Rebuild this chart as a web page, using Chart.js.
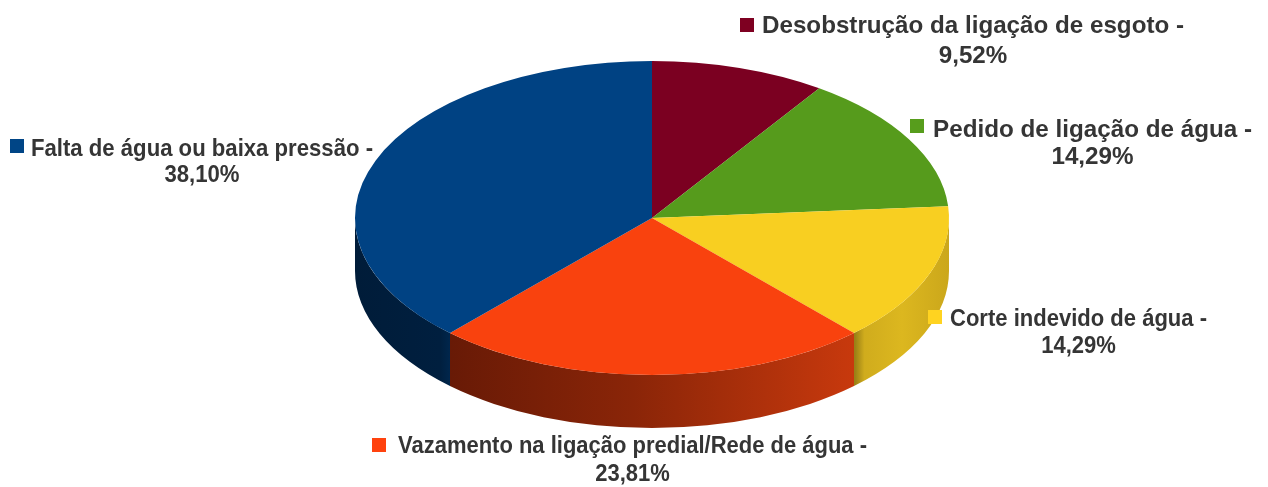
<!DOCTYPE html>
<html><head><meta charset="utf-8">
<script src="https://cdn.jsdelivr.net/npm/chart.js@4"></script>
<style>html,body{margin:0;padding:0;background:#fff;}#wrap{width:1268px;height:487px;position:relative;}</style>
</head><body><div id="wrap"><canvas id="c" width="1268" height="487"></canvas></div>
<script>
// ---- data ----
const categories = [
  "Desobstrução da ligação de esgoto",
  "Pedido de ligação de água",
  "Corte indevido de água",
  "Vazamento na ligação predial/Rede de água",
  "Falta de água ou baixa pressão"
];
const values = [9.52, 14.29, 14.29, 23.81, 38.10];
const percentLabels = ["9,52%", "14,29%", "14,29%", "23,81%", "38,10%"];

// ---- styles / layout ----
const topColors = ['#7B0021', '#569B1C', '#F8CF21', '#F9420E', '#004283'];
const keyColors = ['#7E0021', '#579D1C', '#FFD320', '#FF420E', '#004586'];
const PIE = {cx: 652, cy: 218, rx: 297, ry: 157, depth: 53};
const labelLayout = [
  {sq: [740, 18], x: 762, y1: 33, y2: 63, w: 422},
  {sq: [910, 119], x: 933, y1: 137, y2: 164, w: 319},
  {sq: [928, 310], x: 950, y1: 326, y2: 353, w: 257},
  {sq: [372, 438], x: 398, y1: 453, y2: 481, w: 469},
  {sq: [10, 139], x: 31, y1: 156, y2: 182, w: 342}
];

function sideFill(ctx, i) {
  let g;
  if (i === 3) {
    g = ctx.createLinearGradient(450, 0, 855, 0);
    g.addColorStop(0, '#681A06'); g.addColorStop(0.45, '#8A2508'); g.addColorStop(1, '#C8390D');
  } else if (i === 4) {
    g = ctx.createLinearGradient(355, 0, 450, 0);
    g.addColorStop(0, '#001C39'); g.addColorStop(0.9, '#001F3F'); g.addColorStop(1, '#00264C');
  } else if (i === 2) {
    g = ctx.createLinearGradient(855, 0, 949, 0);
    g.addColorStop(0, '#9A8016'); g.addColorStop(0.1, '#D0AC1D'); g.addColorStop(0.5, '#DCB71F'); g.addColorStop(1, '#CBA71B');
  } else if (i === 1) {
    g = '#3E7214';
  } else {
    g = '#5A0018';
  }
  return g;
}

const pie3d = {
  id: 'pie3d',
  beforeDatasetsDraw(chart) {
    const ctx = chart.ctx;
    const arcs = chart.getDatasetMeta(0).data;
    ctx.save();
    const {cx, cy, rx, ry, depth} = PIE;
    arcs.forEach((a, i) => {
      const s = a.startAngle, e = a.endAngle;
      for (let k = -1; k <= 1; k++) {
        const lo = Math.max(s, 2 * Math.PI * k), hi = Math.min(e, 2 * Math.PI * k + Math.PI);
        if (hi > lo) {
          ctx.beginPath();
          ctx.ellipse(cx, cy, rx, ry, 0, lo, hi, false);
          ctx.lineTo(cx + rx * Math.cos(hi), cy + depth + ry * Math.sin(hi));
          ctx.ellipse(cx, cy + depth, rx, ry, 0, hi, lo, true);
          ctx.closePath();
          ctx.fillStyle = sideFill(ctx, i);
          ctx.fill();
        }
      }
    });
    const a0 = arcs[0];
    const R = a0.outerRadius;
    ctx.translate(cx, cy);
    ctx.scale(rx / R, ry / R);
    ctx.translate(-a0.x, -a0.y);
  },
  afterDatasetsDraw(chart) {
    chart.ctx.restore();
  },
  afterDraw(chart) {
    const ctx = chart.ctx;
    ctx.save();
    ctx.font = 'bold 24px "Liberation Sans", Arial, sans-serif';
    ctx.textBaseline = 'alphabetic';
    categories.forEach((c, i) => {
      const L = labelLayout[i];
      ctx.fillStyle = keyColors[i];
      ctx.fillRect(L.sq[0], L.sq[1], 14, 14);
      const line1 = c + ' -';
      const w = ctx.measureText(line1).width;
      const sx = L.w / w;
      ctx.fillStyle = '#353535';
      ctx.save();
      ctx.translate(L.x, L.y1);
      ctx.scale(sx, 1);
      ctx.textAlign = 'left';
      ctx.fillText(line1, 0, 0);
      ctx.restore();
      ctx.save();
      ctx.translate(L.x + L.w / 2, L.y2);
      ctx.scale(sx, 1);
      ctx.textAlign = 'center';
      ctx.fillText(percentLabels[i], 0, 0);
      ctx.restore();
    });
    ctx.restore();
  }
};

new Chart(document.getElementById('c'), {
  type: 'pie',
  data: {
    labels: categories,
    datasets: [{
      data: values,
      backgroundColor: topColors,
      borderWidth: 0,
      clip: false
    }]
  },
  options: {
    responsive: false,
    animation: false,
    events: [],
    plugins: {legend: {display: false}, tooltip: {enabled: false}}
  },
  plugins: [pie3d]
});
</script></body></html>
